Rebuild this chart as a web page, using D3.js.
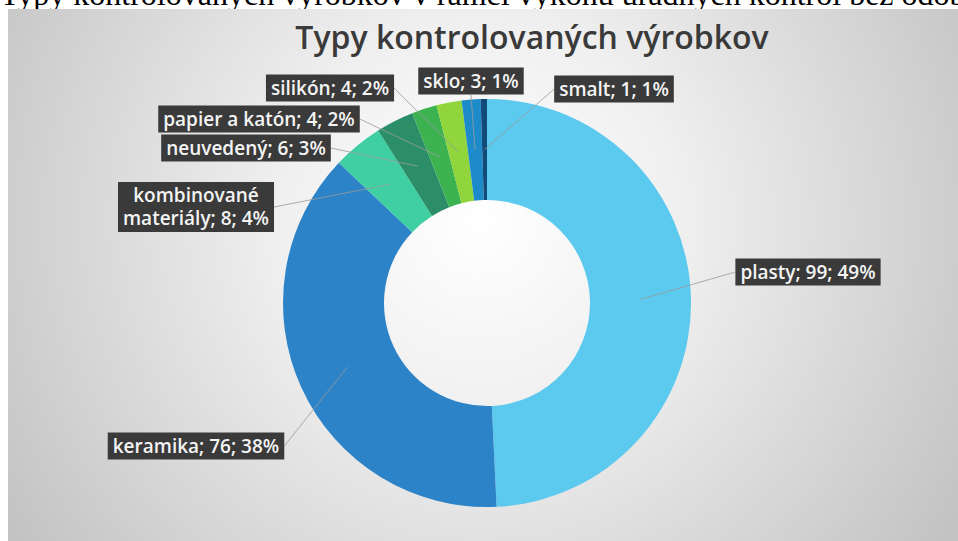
<!DOCTYPE html>
<html>
<head>
<meta charset="utf-8">
<script src="https://cdn.jsdelivr.net/npm/d3@7"></script>
<style>
  body { margin: 0; background: #fff; overflow: hidden; }
  svg { display: block; }
</style>
</head>
<body>
<svg id="chart" width="958" height="541"></svg>
<script>
// Data
const categories = ["plasty", "keramika", "kombinované materiály", "neuvedený", "papier a katón", "silikón", "sklo", "smalt"];
const counts = [99, 76, 8, 6, 4, 4, 3, 1];
const percents = ["49%", "38%", "4%", "3%", "2%", "2%", "1%", "1%"];
const colors = ["#5cc9ef", "#2d83c7", "#3fcfa3", "#2b8e69", "#3cb350", "#90d53c", "#1d8bc9", "#124a7a"];

// Label box centres (layout only)
const labelPos = {
    "plasty": [808, 272, "left"],
    "keramika": [196, 446, "right"],
    "kombinované materiály": [196, 207, "right"],
    "neuvedený": [246, 148, "right"],
    "papier a katón": [259, 119, "right"],
    "silikón": [330, 88, "right"],
    "sklo": [471, 81, "bottom"],
    "smalt": [614, 89, "left"]
};

const svg = d3.select("#chart");
const width = 958, height = 541;

// Caption text above the chart (cut off at top, as in the source page)
svg.append("text")
    .attr("x", 0)
    .attr("y", 5)
    .attr("font-family", "'Liberation Serif', 'Times New Roman', serif")
    .attr("font-size", 32)
    .attr("fill", "#000")
    .text("Typy kontrolovaných výrobkov v rámci výkonu úradných kontrol bez odoberania vzoriek");

// Background gradient
const defs = svg.append("defs");
const grad = defs.append("radialGradient")
    .attr("id", "bg")
    .attr("gradientUnits", "userSpaceOnUse")
    .attr("cx", 480).attr("cy", 220).attr("r", 560);
grad.append("stop").attr("offset", "0%").attr("stop-color", "#ffffff");
grad.append("stop").attr("offset", "35%").attr("stop-color", "#f0f0f0");
grad.append("stop").attr("offset", "100%").attr("stop-color", "#c3c3c3");

svg.append("rect")
    .attr("x", 8).attr("y", 9)
    .attr("width", width - 8).attr("height", height - 9)
    .attr("fill", "url(#bg)");

// Title
svg.append("text")
    .attr("x", 532)
    .attr("y", 49)
    .attr("text-anchor", "middle")
    .attr("font-family", "'Open Sans', sans-serif")
    .attr("font-weight", 600)
    .attr("font-size", 32)
    .attr("fill", "#3a3a3a")
    .text("Typy kontrolovaných výrobkov");

// Donut
const cx = 487, cy = 303;
const outerR = 204, innerR = 103;

const data = categories.map((c, i) => ({ name: c, value: counts[i], pct: percents[i], color: colors[i] }));

const pie = d3.pie()
    .sort(null)
    .value(d => d.value);

const arc = d3.arc()
    .innerRadius(innerR)
    .outerRadius(outerR);

const g = svg.append("g")
    .attr("transform", "translate(" + cx + "," + cy + ")");

const arcs = pie(data);

g.selectAll("path")
    .data(arcs)
    .enter().append("path")
    .attr("d", arc)
    .attr("fill", d => d.data.color);

// Labels
const labels = svg.append("g");

arcs.forEach(function(d) {
    const pos = labelPos[d.data.name];
    const c = arc.centroid(d);
    const lines = d.data.name === "kombinované materiály"
        ? ["kombinované", "materiály; " + d.data.value + "; " + d.data.pct]
        : [d.data.name + "; " + d.data.value + "; " + d.data.pct];

    const lg = labels.append("g");
    const rect = lg.append("rect").attr("fill", "#3a3a3a");
    const lineH = 23;
    const t = lg.append("text")
        .attr("text-anchor", "middle")
        .attr("font-family", "'Open Sans', sans-serif")
        .attr("font-weight", 600)
        .attr("font-size", 19)
        .attr("fill", "#f4f4f4");
    lines.forEach(function(l, i) {
        t.append("tspan")
            .attr("x", pos[0])
            .attr("y", pos[1] + (i - (lines.length - 1) / 2) * lineH)
            .attr("dy", "0.35em")
            .text(l);
    });
    const bb = t.node().getBBox();
    const bw = bb.width + 10, bh = lines.length * lineH + 4;
    rect.attr("x", pos[0] - bw / 2)
        .attr("y", pos[1] - bh / 2)
        .attr("width", bw)
        .attr("height", bh);

    // leader line
    let sx, sy;
    if (pos[2] === "left") { sx = pos[0] - bw / 2; sy = pos[1]; }
    else if (pos[2] === "right") { sx = pos[0] + bw / 2; sy = pos[1]; }
    else { sx = pos[0]; sy = pos[1] + bh / 2; }
    labels.insert("line", ":first-child")
        .attr("x1", sx).attr("y1", sy)
        .attr("x2", cx + c[0]).attr("y2", cy + c[1])
        .attr("stroke", "#9a9a9a")
        .attr("stroke-width", 0.8);
});
</script>
</body>
</html>
